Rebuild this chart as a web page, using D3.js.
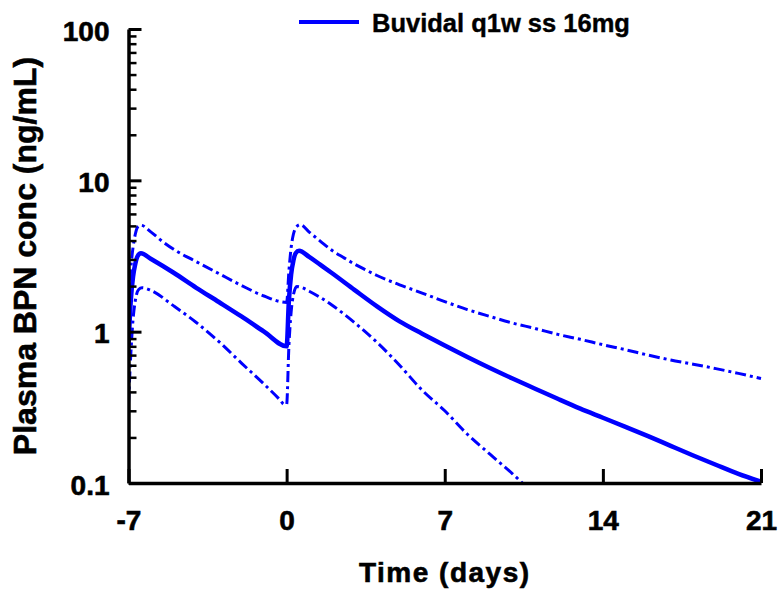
<!DOCTYPE html>
<html>
<head>
<meta charset="utf-8">
<script src="https://cdn.jsdelivr.net/npm/d3@7"></script>
<style>
  html, body { margin: 0; padding: 0; background: #fff; }
  svg { display: block; }
  text { font-family: "Liberation Sans", Arial, Helvetica, sans-serif; font-weight: bold; fill: #000; }
</style>
</head>
<body>
<script>
// Buprenorphine plasma concentration, weekly dosing at steady state
const timeMedian = [-7, -6.9, -6.8, -6.7, -6.6, -6.45, -6, -5, -4, -3, -2, -1, 0,
  0.1, 0.2, 0.3, 0.4, 0.55, 1, 1.5, 2, 3, 4, 5, 6, 7, 8, 9, 10, 11, 12, 13, 14, 15, 16, 17, 18, 19, 20, 21];
const concMedian = [0.8, 1.6, 2.3, 2.8, 3.15, 3.3, 3.02, 2.45, 1.95, 1.57, 1.26, 1.0, 0.8,
  1.6, 2.4, 2.95, 3.3, 3.42, 3.12, 2.76, 2.44, 1.89, 1.47, 1.17, 0.97, 0.81, 0.68, 0.575, 0.49, 0.42, 0.36, 0.31, 0.27, 0.235, 0.204, 0.176, 0.152, 0.132, 0.115, 0.102];

const timeUpper = [-7, -6.9, -6.8, -6.7, -6.6, -6.45, -6, -5.5, -5, -4, -3, -2, -1, 0,
  0.1, 0.2, 0.3, 0.45, 0.6, 1, 1.5, 2, 2.5, 3, 3.5, 4, 5, 6, 7, 8, 9, 10, 11, 12, 13, 14, 15, 16, 17, 18, 19, 20, 21];
const concUpper = [1.56, 2.6, 3.6, 4.4, 4.9, 5.05, 4.55, 3.95, 3.5, 2.9, 2.42, 2.02, 1.72, 1.56,
  2.5, 3.6, 4.4, 4.95, 5.1, 4.55, 3.95, 3.45, 3.1, 2.8, 2.56, 2.35, 2.04, 1.8, 1.58, 1.4, 1.26, 1.14, 1.05, 0.96, 0.89, 0.82, 0.76, 0.7, 0.65, 0.61, 0.57, 0.53, 0.49];

const timeLower = [-7, -6.9, -6.8, -6.7, -6.55, -6.4, -6, -5, -4, -3, -2, -1, -0.3, -0.1, 0,
  0.1, 0.2, 0.3, 0.45, 0.7, 1, 1.5, 2, 3, 4, 5, 6, 7, 8, 9, 10, 10.5];
const concLower = [0.33, 0.7, 1.2, 1.6, 1.9, 1.95, 1.87, 1.48, 1.15, 0.86, 0.62, 0.45, 0.355, 0.33, 0.33,
  0.8, 1.35, 1.75, 1.99, 1.95, 1.85, 1.68, 1.5, 1.15, 0.85, 0.6, 0.41, 0.3, 0.21, 0.155, 0.115, 0.098];

const xTicks = [-7, 0, 7, 14, 21];
const xTickLabels = ["-7", "0", "7", "14", "21"];
const yMajorTicks = [0.1, 1, 10, 100];
const yTickLabels = ["0.1", "1", "10", "100"];
const yMinorTicks = [0.2, 0.3, 0.4, 0.5, 0.6, 0.7, 0.8, 0.9, 2, 3, 4, 5, 6, 7, 8, 9, 20, 30, 40, 50, 60, 70, 80, 90];

const legendLabel = "Buvidal q1w ss 16mg";
const xTitle = "Time (days)";
const yTitle = "Plasma BPN conc (ng/mL)";

const W = 778, H = 593;
const plotLeft = 128.5, plotRight = 761, plotTop = 29, plotBottom = 483;
const blue = "#0000ff";
const fontStack = '"Liberation Sans", Arial, sans-serif';

const svg = d3.select("body").append("svg").attr("width", W).attr("height", H);

const x = d3.scaleLinear().domain([-7, 21]).range([plotLeft, plotRight]);
const y = d3.scaleLog().domain([0.1, 100]).range([plotBottom, plotTop]);

svg.append("defs").append("clipPath").attr("id", "plotClip")
  .append("rect").attr("x", plotLeft).attr("y", plotTop)
  .attr("width", plotRight - plotLeft + 4).attr("height", plotBottom - plotTop);

// curves
const line = d3.line().x(d => x(d[0])).y(d => y(d[1])).curve(d3.curveMonotoneX);
const zip = (ts, vs) => ts.map((t, i) => [t, vs[i]]);

const curves = svg.append("g").attr("clip-path", "url(#plotClip)");
curves.append("path").datum(zip(timeUpper, concUpper))
  .attr("d", line).attr("fill", "none").attr("stroke", blue)
  .attr("stroke-width", 3).attr("stroke-dasharray", "11,4,3,4");
curves.append("path").datum(zip(timeLower, concLower))
  .attr("d", line).attr("fill", "none").attr("stroke", blue)
  .attr("stroke-width", 3).attr("stroke-dasharray", "11,4,3,4");
curves.append("path").datum(zip(timeMedian, concMedian))
  .attr("d", line).attr("fill", "none").attr("stroke", blue)
  .attr("stroke-width", 4.5).attr("stroke-linejoin", "round");

// bold text with a slightly heavier outline
const heavy = sel => sel.style("font-family", fontStack).style("font-weight", "bold")
  .attr("fill", "#000").attr("stroke", "#000").attr("stroke-width", 0.6);

// y axis: minor ticks, then major ticks with labels
const yMinor = svg.append("g").attr("transform", `translate(${plotLeft},0)`)
  .call(d3.axisLeft(y).tickValues(yMinorTicks).tickSizeInner(-8).tickSizeOuter(0).tickFormat(""));
yMinor.select(".domain").remove();
yMinor.selectAll(".tick line").attr("stroke", "#000").attr("stroke-width", 2.5);

const yAxis = svg.append("g").attr("transform", `translate(${plotLeft},0)`)
  .call(d3.axisLeft(y).tickValues(yMajorTicks).tickSizeInner(-13).tickSizeOuter(0).tickPadding(19)
    .tickFormat((d, i) => yTickLabels[i]));
yAxis.select(".domain").attr("stroke", "#000").attr("stroke-width", 3.5);
yAxis.selectAll(".tick line").attr("stroke", "#000").attr("stroke-width", 3);
yAxis.selectAll(".tick text").attr("font-size", 28).attr("dy", "0.4em").call(heavy);

// x axis
const xAxis = svg.append("g").attr("transform", `translate(0,${plotBottom})`)
  .call(d3.axisBottom(x).tickValues(xTicks).tickSizeInner(-14).tickSizeOuter(0).tickPadding(27)
    .tickFormat((d, i) => xTickLabels[i]));
xAxis.select(".domain").attr("stroke", "#000").attr("stroke-width", 3.5);
xAxis.selectAll(".tick line").attr("stroke", "#000").attr("stroke-width", 3);
xAxis.selectAll(".tick text").attr("font-size", 28).call(heavy);

// axis titles
svg.append("text").attr("x", (plotLeft + plotRight) / 2).attr("y", 582)
  .attr("text-anchor", "middle").attr("font-size", 28).attr("letter-spacing", 1.5)
  .text(xTitle).call(heavy);
svg.append("text").attr("transform", `translate(36,${(plotTop + plotBottom) / 2}) rotate(-90)`)
  .attr("text-anchor", "middle").attr("font-size", 32)
  .text(yTitle).call(heavy);

// legend
const legend = svg.append("g");
legend.append("line").attr("x1", 299).attr("x2", 359).attr("y1", 22).attr("y2", 22)
  .attr("stroke", blue).attr("stroke-width", 4);
legend.append("text").attr("x", 372).attr("y", 31.5).attr("font-size", 25.5)
  .text(legendLabel).call(heavy).attr("stroke-width", 0.4);
</script>
</body>
</html>
